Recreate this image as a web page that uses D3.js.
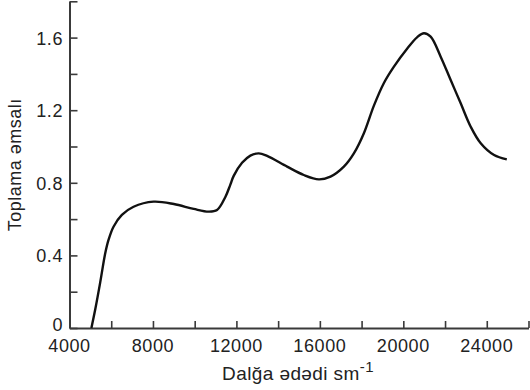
<!DOCTYPE html>
<html>
<head>
<meta charset="utf-8">
<script src="https://cdn.jsdelivr.net/npm/d3@7"></script>
<style>
  body { margin: 0; background: #fff; }
  svg text { font-family: "Liberation Sans", Arial, sans-serif; fill: #222; }
</style>
</head>
<body>
<div id="chart"></div>
<script>
"use strict";

// wavenumber (cm^-1)
var waveNumbers = [5050, 5230, 5470, 5710, 5870, 6110, 6510, 7070, 8030, 9000, 9950, 10670, 11070, 11470, 11710,
  11870, 12270, 12670, 13070, 13470, 14430, 15230, 15950, 16510, 17150, 17630, 18110, 18590, 19070, 19550,
  20190, 20670, 20990, 21310, 21790, 22270, 22750, 23230, 23710, 24350, 24960];
// absorption coefficient
var absorption = [0, 0.10, 0.25, 0.41, 0.485, 0.558, 0.623, 0.668, 0.696, 0.683, 0.656, 0.641, 0.65, 0.722, 0.79,
  0.838, 0.91, 0.95, 0.962, 0.948, 0.889, 0.843, 0.819, 0.834, 0.889, 0.962, 1.073, 1.225, 1.35, 1.44,
  1.54, 1.603, 1.624, 1.605, 1.495, 1.366, 1.238, 1.109, 1.018, 0.953, 0.929];

var xTicks = [4000, 6000, 8000, 10000, 12000, 14000, 16000, 18000, 20000, 22000, 24000, 26000];
var xTickLabels = ["4000", "", "8000", "", "12000", "", "16000", "", "20000", "", "24000", ""];
var yTicks = [0, 0.2, 0.4, 0.6, 0.8, 1.0, 1.2, 1.4, 1.6, 1.8];
var yTickLabels = ["0", "", "0.4", "", "0.8", "", "1.2", "", "1.6", ""];

var xTitle = "Dalğa ədədi sm";
var yTitle = "Toplama əmsalı";

var width = 530, height = 390;
var x0 = 69.5, x1 = 528.5, y0 = 328, y1 = 1.3;

var svg = d3.select("#chart").append("svg")
  .attr("width", width)
  .attr("height", height);

var x = d3.scaleLinear().domain([4000, 26000]).range([x0, x1]);
var y = d3.scaleLinear().domain([0, 1.8]).range([y0, y1]);

// axes, ticks pointing inward
var xAxis = d3.axisBottom(x)
  .tickValues(xTicks)
  .tickSizeInner(-7)
  .tickSizeOuter(0)
  .tickFormat(function () { return ""; });

var yAxis = d3.axisLeft(y)
  .tickValues(yTicks)
  .tickSizeInner(-8)
  .tickSizeOuter(0)
  .tickFormat(function () { return ""; });

var gx = svg.append("g").attr("transform", "translate(0," + y0 + ")").call(xAxis);
var gy = svg.append("g").attr("transform", "translate(" + x0 + ",0)").call(yAxis);

[gx, gy].forEach(function (g) {
  g.select(".domain").attr("stroke", "#3a3a3a").attr("stroke-width", 2);
  g.selectAll(".tick line").attr("stroke", "#3a3a3a").attr("stroke-width", 1.6);
});

// tick labels
svg.selectAll(".xlab")
  .data(xTicks)
  .enter()
  .append("text")
  .attr("class", "xlab")
  .attr("x", function (d) { return x(d); })
  .attr("y", 351.5)
  .attr("text-anchor", "middle")
  .style("font-size", "18px")
  .style("letter-spacing", "0.6px")
  .text(function (d, i) { return xTickLabels[i]; });

svg.selectAll(".ylab")
  .data(yTicks)
  .enter()
  .append("text")
  .attr("class", "ylab")
  .attr("x", 63)
  .attr("y", function (d) { return y(d) + (d === 0 ? 2.5 : 7); })
  .attr("text-anchor", "end")
  .style("font-size", "18px")
  .style("letter-spacing", "0.6px")
  .text(function (d, i) { return yTickLabels[i]; });

// axis titles
var xt = svg.append("text")
  .attr("x", (x0 + x1) / 2 - 1)
  .attr("y", 380)
  .attr("text-anchor", "middle")
  .style("font-size", "19px")
  .style("letter-spacing", "0.4px");
xt.append("tspan").text(xTitle);
xt.append("tspan").attr("dy", -8).style("font-size", "15px").text("-1");

svg.append("text")
  .attr("transform", "translate(21," + ((y0 + y1) / 2) + ") rotate(-90)")
  .attr("text-anchor", "middle")
  .style("font-size", "18px")
  .style("letter-spacing", "0.5px")
  .text(yTitle);

// curve
var points = waveNumbers.map(function (w, i) { return [w, absorption[i]]; });
var line = d3.line()
  .x(function (d) { return x(d[0]); })
  .y(function (d) { return y(d[1]); })
  .curve(d3.curveCatmullRom.alpha(0.5));

svg.append("path")
  .datum(points)
  .attr("fill", "none")
  .attr("stroke", "#111")
  .attr("stroke-width", 2.4)
  .attr("stroke-linejoin", "round")
  .attr("d", line);
</script>
</body>
</html>
